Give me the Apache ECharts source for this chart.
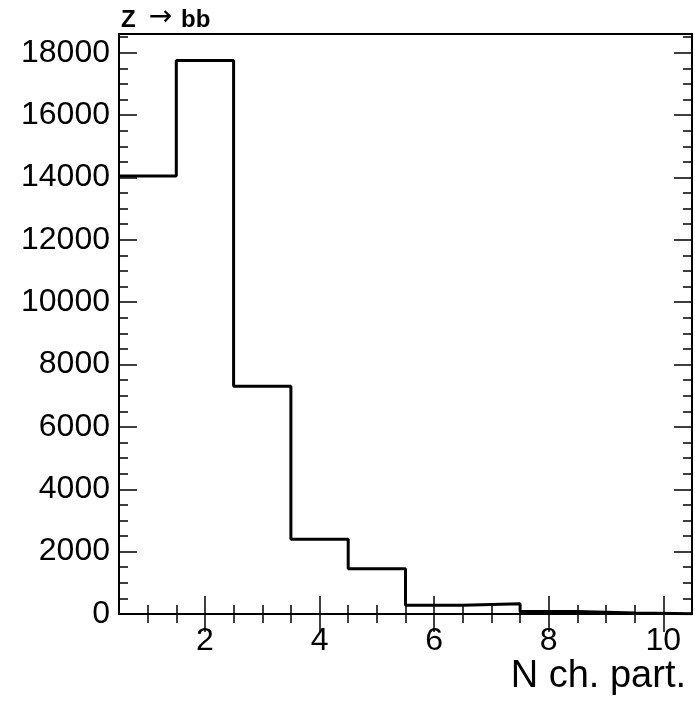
<!DOCTYPE html>
<html>
<head>
<meta charset="utf-8">
<script src="https://cdn.jsdelivr.net/npm/echarts@6/dist/echarts.min.js"></script>
<style>
html,body{margin:0;padding:0;background:#fff;}
#chart{width:695px;height:701px;}
</style>
</head>
<body>
<div id="chart"></div>
<script>
// Bin centres (number of charged particles) and counts
const binCenters = [1, 2, 3, 4, 5, 6, 7, 8, 9, 10];
const counts = [14050, 17750, 7300, 2400, 1450, 280, 330, 80, 30, 10];
const binWidth = 1;

// Tick values
const xMajorTicks = [2, 4, 6, 8, 10];
const xMinorTicks = [1, 1.5, 2.5, 3, 3.5, 4.5, 5, 5.5, 6.5, 7, 7.5, 8.5, 9, 9.5];
const yMajorTicks = [0, 2000, 4000, 6000, 8000, 10000, 12000, 14000, 16000, 18000];
const yMinorTicks = [500, 1000, 1500, 2500, 3000, 3500, 4500, 5000, 5500, 6500, 7000, 7500,
  8500, 9000, 9500, 10500, 11000, 11500, 12500, 13000, 13500, 14500, 15000, 15500,
  16500, 17000, 17500, 18500];

const xMin = 0.5, xMax = 10.5, yMin = 0, yMax = 18600;

// Step-line points: left edge of each bin, plus the last right edge
const stepData = binCenters.map((c, i) => [c - binWidth / 2, counts[i]]);
stepData.push([binCenters[binCenters.length - 1] + binWidth / 2, counts[counts.length - 1]]);

const font = "'Liberation Sans', Arial, Helvetica, sans-serif";
const plain = v => String(v);

function xAx(pos, ticks, len, labels) {
  return {
    type: 'value', position: pos, min: xMin, max: xMax,
    axisLine: { show: true, lineStyle: { color: '#000', width: 2 } },
    axisTick: { show: true, inside: true, length: len, customValues: ticks, lineStyle: { color: '#000', width: 1.5 } },
    axisLabel: labels ? { show: true, customValues: ticks, formatter: plain, fontSize: 32, color: '#000', fontFamily: font, margin: 11 } : { show: false },
    splitLine: { show: false }
  };
}
function yAx(pos, ticks, len, labels) {
  return {
    type: 'value', position: pos, min: yMin, max: yMax,
    axisLine: { show: true, lineStyle: { color: '#000', width: 2 } },
    axisTick: { show: true, inside: true, length: len, customValues: ticks, lineStyle: { color: '#000', width: 1.5 } },
    axisLabel: labels ? { show: true, customValues: ticks, formatter: plain, fontSize: 32, color: '#000', fontFamily: font, margin: 9 } : { show: false },
    splitLine: { show: false }
  };
}

const chart = echarts.init(document.getElementById('chart'), null, { renderer: 'canvas' });
chart.setOption({
  animation: false,
  backgroundColor: '#fff',
  title: [
    {
      text: '{z|Z}{a|\u2192}{b|bb}', left: 116, top: 1,
      textStyle: {
        rich: {
          z: { fontSize: 24, fontWeight: 'bold', color: '#000', fontFamily: font, verticalAlign: 'bottom', lineHeight: 26 },
          a: { fontSize: 28, fontWeight: 'normal', color: '#000', fontFamily: "'DejaVu Sans', sans-serif", padding: [0, 9, 0, 13], verticalAlign: 'bottom', lineHeight: 26 },
          b: { fontSize: 24, fontWeight: 'bold', color: '#000', fontFamily: font, verticalAlign: 'bottom', lineHeight: 26 }
        }
      }
    },
    { text: 'N ch. part.', right: 4, top: 653, textStyle: { fontSize: 38, fontWeight: 'normal', color: '#000', fontFamily: font } }
  ],
  grid: { left: 119, top: 34, right: 3, bottom: 87, show: true, borderColor: '#000', borderWidth: 2, containLabel: false },
  xAxis: [
    xAx('bottom', xMajorTicks, 18, true),
    xAx('bottom', xMinorTicks, 9, false),
    xAx('top', xMajorTicks, 18, false),
    xAx('top', xMinorTicks, 9, false)
  ],
  yAxis: [
    yAx('left', yMajorTicks, 18, true),
    yAx('left', yMinorTicks, 9, false),
    yAx('right', yMajorTicks, 18, false),
    yAx('right', yMinorTicks, 9, false)
  ],
  series: [{
    type: 'line', xAxisIndex: 0, yAxisIndex: 0, step: 'end', symbol: 'none',
    lineStyle: { color: '#000', width: 3 },
    data: stepData
  }]
});
</script>
</body>
</html>
